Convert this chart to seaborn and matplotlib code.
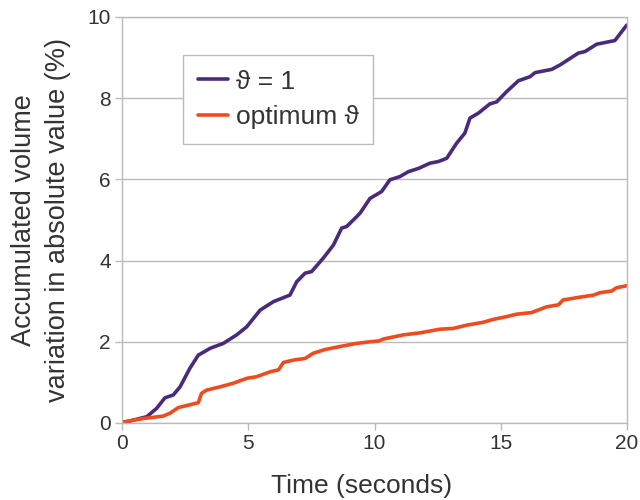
import matplotlib
matplotlib.use("Agg")
import matplotlib.pyplot as plt
import seaborn as sns
import pandas as pd

# ϑ = 1 series
t1 = [0, 0.98, 1.37, 1.70, 2.03, 2.30, 2.69, 3.02, 3.49, 4.01, 4.54, 4.94, 5.47, 6.0, 6.65, 6.92,
      7.25, 7.51, 7.97, 8.37, 8.70, 8.90, 9.29, 9.43, 9.82, 10.28, 10.61, 11.01, 11.34, 11.74, 12.20,
      12.53, 12.86, 13.25, 13.58, 13.78, 14.11, 14.57, 14.84, 15.23, 15.70, 16.16, 16.36, 17.02,
      17.35, 18.07, 18.34, 18.80, 19.52, 19.99]
v1 = [0, 0.155, 0.36, 0.62, 0.69, 0.89, 1.35, 1.67, 1.84, 1.96, 2.17, 2.37, 2.78, 2.99, 3.15, 3.48,
      3.69, 3.73, 4.06, 4.38, 4.80, 4.84, 5.08, 5.17, 5.53, 5.70, 5.99, 6.07, 6.19, 6.27, 6.40,
      6.44, 6.52, 6.89, 7.14, 7.51, 7.63, 7.86, 7.91, 8.16, 8.43, 8.53, 8.63, 8.71,
      8.82, 9.11, 9.15, 9.33, 9.42, 9.80]

# optimum ϑ series
t2 = [0, 0.84, 1.63, 1.90, 2.23, 2.63, 3.02, 3.15, 3.35, 3.88, 4.41, 4.94, 5.33, 5.86, 6.20, 6.39,
      6.79, 7.25, 7.58, 8.04, 8.77, 9.29, 9.82, 10.16, 10.36, 11.14, 11.80, 12.59, 13.12, 13.65,
      14.30, 14.69, 15.23, 15.63, 16.22, 16.81, 17.28, 17.47, 18.14, 18.67, 18.93, 19.39, 19.58, 19.98]
v2 = [0.02, 0.11, 0.17, 0.24, 0.38, 0.44, 0.50, 0.73, 0.81, 0.89, 0.98, 1.10, 1.14, 1.26, 1.31, 1.49,
      1.55, 1.59, 1.72, 1.81, 1.90, 1.96, 2.00, 2.02, 2.07, 2.17, 2.22, 2.31, 2.33, 2.41,
      2.48, 2.55, 2.62, 2.68, 2.72, 2.86, 2.91, 3.03, 3.10, 3.15, 3.21, 3.25, 3.33, 3.38]

labels = ["ϑ = 1", "optimum ϑ"]
colors = ["#4a2a7c", "#f2491d"]
xticks = [0, 5, 10, 15, 20]
yticks = [0, 2, 4, 6, 8, 10]

df = pd.concat([
    pd.DataFrame({"t": t1, "v": v1, "series": labels[0]}),
    pd.DataFrame({"t": t2, "v": v2, "series": labels[1]}),
], ignore_index=True)

sns.set_style("white")
plt.rcParams["font.family"] = ["Liberation Sans", "DejaVu Sans"]
txt = "#333333"
gridc = "#bbbbbb"

fig = plt.figure(figsize=(6.4, 5.0), dpi=100)
ax = fig.add_axes([122/640, 1-423/500, (627-122)/640, (423-17)/500])

sns.lineplot(data=df, x="t", y="v", hue="series", palette=dict(zip(labels, colors)),
             linewidth=2.6, ax=ax, sort=False, estimator=None)

ax.set_xlim(0, 20)
ax.set_ylim(0, 10)
ax.set_xticks(xticks)
ax.set_yticks(yticks)
ax.yaxis.grid(True, color=gridc, linewidth=1.0)
ax.xaxis.grid(False)
ax.set_axisbelow(True)
for s in ax.spines.values():
    s.set_color(gridc)
    s.set_linewidth(1.0)
ax.tick_params(axis="both", direction="out", length=5, width=1.0, color=gridc,
               labelsize=15, labelcolor=txt, pad=3)
ax.tick_params(left=True, bottom=True)

ax.set_xlabel("Time (seconds)", fontsize=19, color=txt, labelpad=12)
ax.xaxis.set_label_coords(0.475, -0.125)
ax.set_ylabel("Accumulated volume\nvariation in absolute value (%)", fontsize=19.5,
              color=txt, labelpad=12, multialignment="center", linespacing=1.4)

leg = ax.legend(loc="upper left", bbox_to_anchor=(183/640, 1-55/500),
                bbox_transform=fig.transFigure, fontsize=19, frameon=True,
                fancybox=False, edgecolor="#bbbbbb", framealpha=1,
                handlelength=1.15, handletextpad=0.3, borderpad=0.55,
                labelspacing=0.45, borderaxespad=0)
leg.get_frame().set_linewidth(1.0)
for t in leg.get_texts():
    t.set_color(txt)

fig.savefig("out.png", dpi=100)
